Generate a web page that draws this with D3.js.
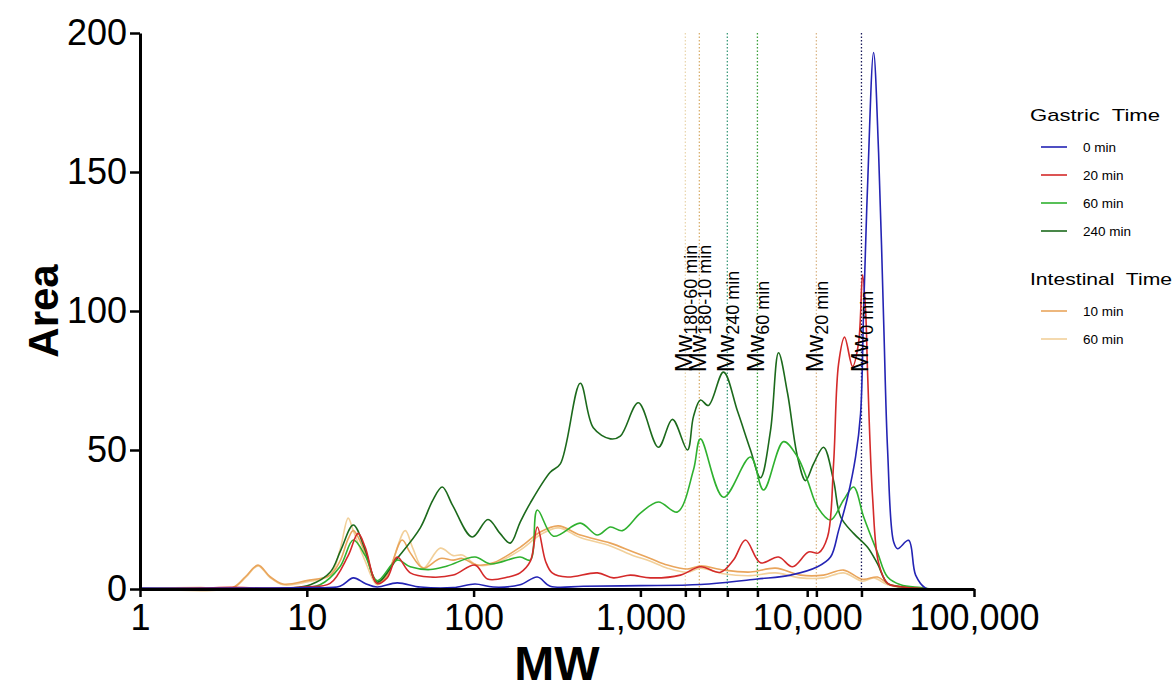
<!DOCTYPE html>
<html>
<head>
<meta charset="utf-8">
<script src="https://d3js.org/d3.v7.min.js"></script>
<style>
  body { margin: 0; background: #fff; }
  text { font-family: Arial, "Liberation Sans", sans-serif; }
</style>
</head>
<body>
<div id="chart"></div>
<script>
// MW / Area points
var gastric0 = [[1,0.3],[10,0.5],[15.8,1],[19,4],[22.4,2],[26.4,0.7],[34.8,2.2],[47.9,0.7],[75.5,0.5],[102,1.8],[131,0.7],[190,1.5],[241,4.3],[288,1],[455,1],[1000,1.2],[2291,1.6],[5035,3.6],[7943,5],[11530,8],[13800,11.5],[15420,21],[17460,33],[19500,47.5],[20890,63],[21780,100],[23010,145],[25000,193],[26790,157],[28710,97],[30340,50],[32960,17],[34830,14.5],[40550,17.5],[44670,5],[51290,0.3],[54950,0]];
var gastric20 = [[1,0],[2.3,0.3],[3.5,0.6],[6,0.3],[10,0.8],[13.8,2],[17.7,12],[20.3,20],[22.4,15],[26.4,2],[30.3,4],[34.8,11.5],[41.7,5.8],[55,4.3],[75.5,5],[102,8.6],[121,3.6],[161,4.3],[190,5.8],[219,10],[241,22.3],[270,10],[296,5.8],[365,4.3],[552,5.8],[689,4],[871,5],[1148,4],[1738,5],[2291,8],[3020,6],[3613,10.4],[4266,17.6],[5248,9.4],[6730,11.5],[8166,8],[10190,13.3],[11700,13],[13240,18.7],[14390,45],[15420,81],[16750,90.6],[18710,80],[20320,88.5],[21480,113],[22400,100],[23010,78],[24660,33],[26790,9.4],[30340,2],[36310,0.8],[44670,0.3],[54950,0]];
var gastric60 = [[1,0],[7.9,0.2],[12,1.5],[15.8,8],[19,17.6],[22.4,12],[26.4,3],[34.8,10.4],[41.7,8],[55,7],[69.5,8.3],[102,11.5],[126,9],[190,11.5],[219,10.4],[241,28.4],[301,19],[436,23.7],[552,19.4],[661,22.3],[780,21],[1000,27.3],[1282,31.3],[1667,27.7],[2080,42.8],[2291,54],[3147,33],[4571,47.5],[5470,35.6],[7211,53],[8750,47.5],[10050,39],[11530,29.5],[13800,24.8],[16520,32],[18970,36.7],[21780,26],[26420,13],[30340,4.3],[36310,1.5],[47860,0.5],[54950,0]];
var gastric240 = [[1,0],[7.9,0.3],[10.5,1.5],[13.8,6],[16,14],[19,23],[22.4,14],[26.4,2.5],[34.8,11],[47.9,22],[57,32],[64.9,36.7],[75,30],[98.1,18.7],[122,25],[144,20],[166,16.5],[190,24],[219,31],[288,42],[331,45],[436,74],[522,58],[661,54],[758,55],[972,67],[1282,51],[1556,61],[1914,50],[2080,62],[2291,68],[2559,66],[3147,78],[3819,64],[4571,50],[5248,40],[6026,57],[6730,85],[7621,70.5],[8750,47.5],[9772,39],[10910,45],[12530,51],[14390,39],[15850,26],[18970,20],[23010,15],[26420,9],[30340,2],[36310,0.8],[47860,0.3],[54950,0]];
var intestinal10 = [[1,0.3],[2.3,0.5],[3.6,0.5],[4.3,4.5],[5.1,8.6],[6,4.5],[7.2,1.8],[10,3],[13.8,5],[15.8,10],[17.7,18],[19,21],[22.4,13],[26.4,2],[30.3,5],[37.3,17.6],[41.7,13],[49.9,7.5],[63.1,11],[75.5,10.4],[85.5,11],[105,8.6],[131,9.4],[190,15],[251,20.5],[322,22.7],[436,19.4],[661,16.5],[908,13.3],[1148,11],[1452,8.6],[1914,7.2],[2291,8.3],[3147,6.8],[4571,6.1],[6457,7.5],[9120,5],[12530,5],[16520,6.8],[21480,3.5],[26420,4.3],[30340,2],[36310,0.8],[47860,0.3],[54950,0]];
var intestinal60 = [[1,0.3],[3.6,0.4],[4.3,4.2],[5.1,8.3],[6,4.2],[7.2,1.5],[10,2.5],[13.8,5],[15.8,14],[17.7,25.5],[19,21],[22.4,10],[26.4,1.5],[30.3,5],[38.9,21],[43,15],[49.9,7.5],[63.1,14.7],[75.5,12],[85.5,12.2],[105,8.6],[131,9],[190,14],[251,19.5],[322,22],[436,18.5],[661,15.5],[908,12],[1148,10],[1452,7.5],[1914,6],[2291,7.5],[3147,5.5],[4571,4.8],[6457,5.8],[9120,4],[12530,4],[16520,5.8],[21480,2.8],[25000,4],[30340,1.5],[36310,0.5],[54950,0]];

var seriesNames = ["0 min", "20 min", "60 min", "240 min", "10 min", "60 min"];
var seriesColors = ["#2424b4", "#d42a2a", "#2fb12f", "#1c6a1c", "#e9a55c", "#f2d09a"];

// weight-average MW markers
var mwValues = [1860, 2256, 3320, 5030, 11350, 21150];
var mwSubs = ["180-60 min", "180-10 min", "240 min", "60 min", "20 min", "0 min"];
var mwColors = ["#ead7b0", "#d9b070", "#3c9a7a", "#3aa03a", "#dcb88a", "#1a1a5a"];

var xTicks = [1, 10, 100, 1000, 10000, 100000];
var yTicks = [0, 50, 100, 150, 200];

var width = 1175, height = 693;
var plotLeft = 140, plotRight = 974, plotTop = 33, plotBottom = 589;

var svg = d3.select('#chart')
    .append('svg')
    .attr('width', width)
    .attr('height', height)

var x = d3.scaleLog().domain([1, 100000]).range([plotLeft, plotRight])
var y = d3.scaleLinear().domain([0, 200]).range([plotBottom, plotTop])

// dotted Mw lines
svg.selectAll('.mwline')
    .data(mwValues)
    .enter()
    .append('line')
    .attr('x1', d => x(d))
    .attr('x2', d => x(d))
    .attr('y1', y(200))
    .attr('y2', y(0))
    .attr('stroke', (d, i) => mwColors[i])
    .attr('stroke-width', 1.3)
    .attr('stroke-dasharray', '1.5,2')

// curves
var line = d3.line()
    .x(d => x(d[0]))
    .y(d => y(d[1]))
    .curve(d3.curveCatmullRom.alpha(0.5))

var drawOrder = [5, 4, 3, 2, 1, 0];
var allSeries = [gastric0, gastric20, gastric60, gastric240, intestinal10, intestinal60];
drawOrder.forEach(function(i) {
    svg.append('path')
        .datum(allSeries[i])
        .attr('d', line)
        .attr('fill', 'none')
        .attr('stroke', seriesColors[i])
        .attr('stroke-width', 1.6)
});

// axes
var yAxis = svg.append('g')
    .attr('transform', 'translate(' + plotLeft + ',0)')
    .call(d3.axisLeft(y).tickValues(yTicks).tickSize(10).tickSizeOuter(0).tickPadding(3))
yAxis.selectAll('text').style('font-size', '36px').attr('fill', '#000')

var xAxis = svg.append('g')
    .attr('transform', 'translate(0,' + plotBottom + ')')
    .call(d3.axisBottom(x).tickValues(xTicks).tickFormat(d3.format(',')).tickSize(8).tickSizeOuter(0).tickPadding(7))
xAxis.selectAll('text').style('font-size', '36px').attr('fill', '#000')

svg.append('g')
    .attr('transform', 'translate(0,' + plotBottom + ')')
    .call(d3.axisBottom(x).tickValues(mwValues).tickFormat('').tickSize(8).tickSizeOuter(0))
    .select('.domain').remove()

svg.selectAll('.domain').attr('stroke', '#000').attr('stroke-width', 3)
svg.selectAll('.tick line').attr('stroke', '#000').attr('stroke-width', 2.5)

// Mw labels
svg.selectAll('.mwlabel')
    .data(mwValues)
    .enter()
    .append('text')
    .attr('transform', d => 'translate(' + (x(d) + 7) + ',' + y(78) + ') rotate(-90)')
    .style('font-size', '24px')
    .each(function(d, i) {
        var t = d3.select(this)
        t.append('tspan').text('Mw')
        t.append('tspan').attr('dy', 5).style('font-size', '18px').text(mwSubs[i])
    })

// axis titles
svg.append('text')
    .attr('x', (plotLeft + plotRight) / 2)
    .attr('y', 680)
    .attr('text-anchor', 'middle')
    .style('font-size', '48px')
    .style('font-weight', 'bold')
    .text('MW')

svg.append('text')
    .attr('transform', 'translate(58,' + ((plotTop + plotBottom) / 2) + ') rotate(-90)')
    .attr('text-anchor', 'middle')
    .style('font-size', '42px')
    .style('font-weight', 'bold')
    .text('Area')

// legend
var legendGroups = [
    { title: 'Gastric  Time', items: [0, 1, 2, 3], y: 121 },
    { title: 'Intestinal  Time', items: [4, 5], y: 285 }
];
legendGroups.forEach(function(g) {
    svg.append('text')
        .attr('x', 1030)
        .attr('y', g.y)
        .style('font-size', '17px')
        .style('white-space', 'pre')
        .attr('textLength', g.title.length > 14 ? 142 : 130)
        .attr('lengthAdjust', 'spacingAndGlyphs')
        .text(g.title)
    g.items.forEach(function(s, j) {
        var ly = g.y + 26 + j * 28;
        svg.append('line')
            .attr('x1', 1041).attr('x2', 1067)
            .attr('y1', ly).attr('y2', ly)
            .attr('stroke', seriesColors[s])
            .attr('stroke-width', 1.6)
        svg.append('text')
            .attr('x', 1083)
            .attr('y', ly + 5)
            .style('font-size', '13.5px')
            .text(seriesNames[s])
    })
});
</script>
</body>
</html>
